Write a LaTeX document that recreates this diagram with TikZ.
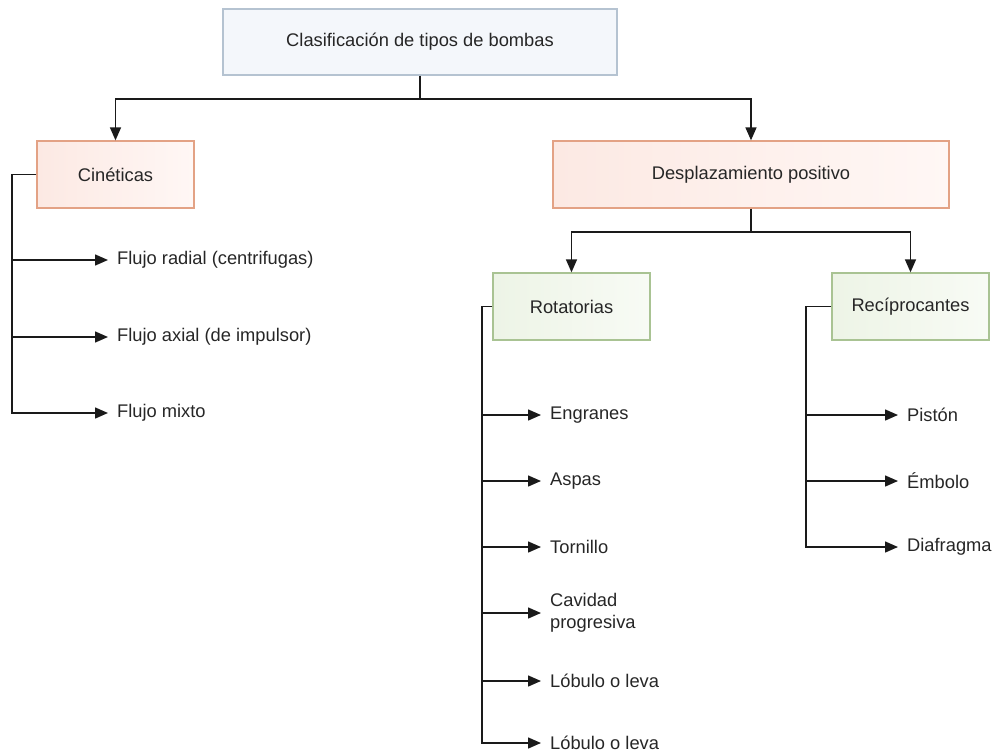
\documentclass[tikz,border=0pt]{standalone}
\usepackage{fontspec}
\setmainfont{Liberation Sans}
\usetikzlibrary{arrows.meta}
\definecolor{inkline}{HTML}{1A1A1A}
\definecolor{inktext}{HTML}{262626}
\definecolor{blueedge}{HTML}{B5C3D1}
\definecolor{bluefill}{HTML}{F4F7FB}
\definecolor{redge}{HTML}{E3A285}
\definecolor{rfillA}{HTML}{FCE9E3}
\definecolor{rfillB}{HTML}{FFF7F5}
\definecolor{gedge}{HTML}{A9C393}
\definecolor{gfillA}{HTML}{EDF4E6}
\definecolor{gfillB}{HTML}{F8FBF5}
\tikzset{
  every node/.style={font=\fontsize{18.3}{22}\selectfont, text=inktext},
  rootbox/.style={draw=blueedge, line width=1.3pt, fill=bluefill,
    minimum width=394pt, minimum height=66pt, inner sep=0pt},
  kindbox/.style={draw=redge, line width=1.3pt, left color=rfillA, right color=rfillB,
    minimum height=67pt, inner sep=0pt},
  subbox/.style={draw=gedge, line width=1.3pt, left color=gfillA, right color=gfillB,
    minimum width=157pt, minimum height=67pt, inner sep=0pt},
  leaf/.style={anchor=west, inner xsep=9pt, inner ysep=0pt, align=left},
  conn/.style={draw=inkline, line width=1.5pt},
  arr/.style={conn, -{Triangle[length=13pt,width=11pt]}},
}
\begin{document}
\begin{tikzpicture}[x=1pt,y=-1pt]
\useasboundingbox (0,0) rectangle (996,755);

% boxes
\node[rootbox] (root) at (420,42) {Clasificación de tipos de bombas};
\node[kindbox, minimum width=157pt] (cin) at (115.5,174.5) {Cinéticas};
\node[kindbox, minimum width=396pt] (des) at (751,174.5) {Desplazamiento positivo};
\node[subbox] (rot) at (571.5,306.5) {Rotatorias};
\node[subbox] (rec) at (910.5,306.5) {Recíprocantes};

% kinetic pumps
\node[leaf] (c1) at (108,260) {Flujo radial (centrifugas)};
\node[leaf] (c2) at (108,337) {Flujo axial (de impulsor)};
\node[leaf] (c3) at (108,413) {Flujo mixto};

% rotary pumps
\node[leaf] (r1) at (541,415) {Engranes};
\node[leaf] (r2) at (541,481) {Aspas};
\node[leaf] (r3) at (541,547) {Tornillo};
\node[leaf] (r4) at (541,613) {Cavidad\\progresiva};
\node[leaf] (r5) at (541,681) {Lóbulo o leva};
\node[leaf] (r6) at (541,743) {Lóbulo o leva};

% reciprocating pumps
\node[leaf] (p1) at (898,415) {Pistón};
\node[leaf] (p2) at (898,481) {Émbolo};
\node[leaf] (p3) at (898,547) {Diafragma};

% spine positions
\coordinate (bus1) at (0,99);
\coordinate (bus2) at (0,232);
\coordinate (cs) at (12,0);
\coordinate (rs) at (482,0);
\coordinate (ps) at (806,0);

% top level
\draw[conn] (root.south) -- (root.south |- bus1);
\draw[arr] (root.south |- bus1) -| (cin.north);
\draw[arr] (root.south |- bus1) -| (des.north);

% second level
\draw[conn] (des.south) -- (des.south |- bus2);
\draw[arr] (des.south |- bus2) -| (rot.north);
\draw[arr] (des.south |- bus2) -| (rec.north);

% kinetic branches
\draw[arr] (cin.west) -| (cs |- c3.west) -- (c3.west);
\draw[arr] (cs |- c1.west) -- (c1.west);
\draw[arr] (cs |- c2.west) -- (c2.west);

% rotary branches
\draw[arr] (rot.west) -| (rs |- r6.west) -- (r6.west);
\foreach \n in {r1,r2,r3,r4,r5}
  \draw[arr] (rs |- \n.west) -- (\n.west);

% reciprocating branches
\draw[arr] (rec.west) -| (ps |- p3.west) -- (p3.west);
\foreach \n in {p1,p2}
  \draw[arr] (ps |- \n.west) -- (\n.west);
\end{tikzpicture}
\end{document}
